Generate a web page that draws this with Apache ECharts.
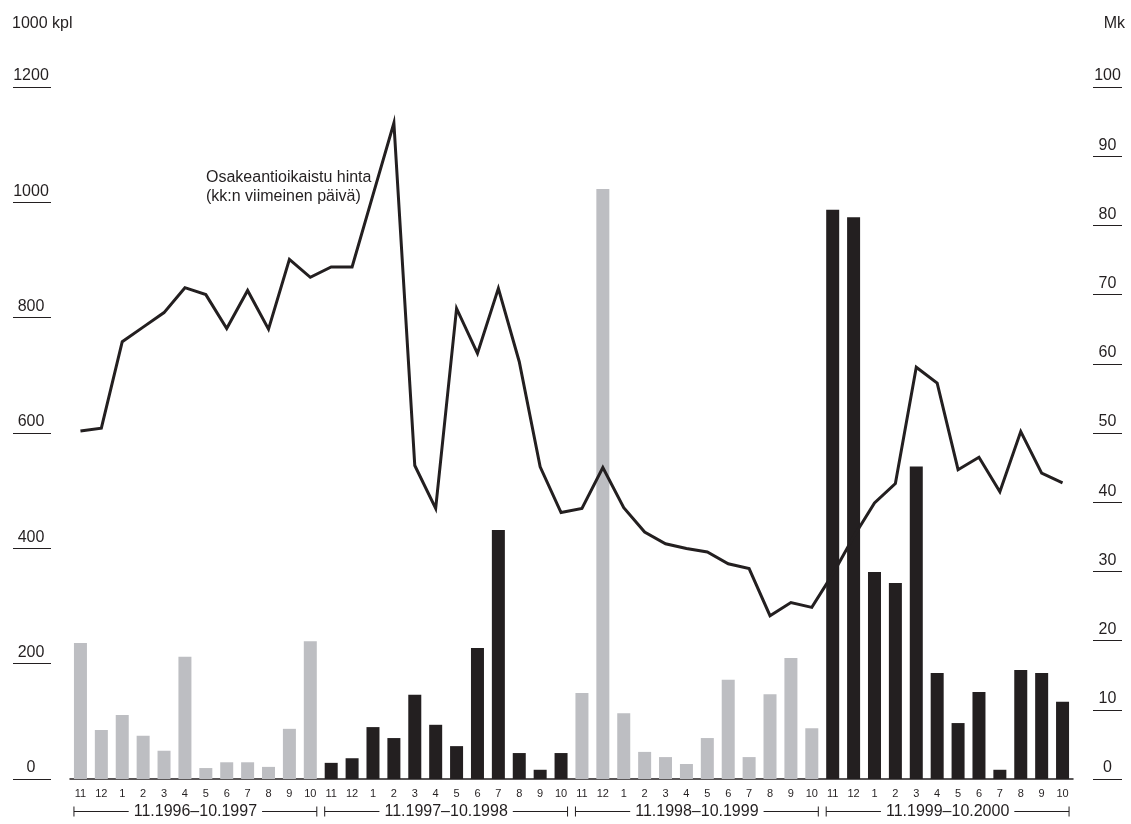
<!DOCTYPE html>
<html>
<head>
<meta charset="utf-8">
<script src="https://cdn.jsdelivr.net/npm/echarts@6/dist/echarts.min.js"></script>
<style>
	html,
	body {
		margin: 0;
		padding: 0;
		background: #fff;
	}
	#chart {
		width: 1131px;
		height: 824px;
	}
</style>
</head>
<body>
<div id="chart"></div>
<script>
// Month labels, 11.1996 - 10.2000
const months = [
	'11', '12', '1', '2', '3', '4', '5', '6', '7', '8', '9', '10',
	'11', '12', '1', '2', '3', '4', '5', '6', '7', '8', '9', '10',
	'11', '12', '1', '2', '3', '4', '5', '6', '7', '8', '9', '10',
	'11', '12', '1', '2', '3', '4', '5', '6', '7', '8', '9', '10',
];
const periods = ['11.1996–10.1997', '11.1997–10.1998', '11.1998–10.1999', '11.1999–10.2000'];

// Trading volume, 1000 kpl (left axis)
const volume = [
	236, 85, 111, 75, 49, 212, 19, 29, 29, 21, 87, 239,
	28, 36, 90, 71, 146, 94, 57, 227, 432, 45, 16, 45,
	149, 1023, 114, 47, 38, 26, 71, 172, 38, 147, 210, 88,
	987, 974, 359, 340, 542, 184, 97, 151, 16, 189, 184, 134,
];
// Share-issue adjusted price, Mk (right axis)
const price = [
	50.3, 50.7, 63.2, 65.3, 67.4, 71.0, 70.0, 65.1, 70.6, 65.0, 75.1, 72.5,
	74.0, 74.0, 84.4, 94.8, 45.3, 39.1, 68.0, 61.5, 70.9, 60.3, 45.1, 38.5,
	39.1, 45.0, 39.2, 35.7, 34.0, 33.3, 32.8, 31.1, 30.4, 23.6, 25.5, 24.8,
	29.6, 35.0, 39.9, 42.7, 59.5, 57.2, 44.7, 46.5, 41.5, 50.2, 44.2, 42.8,
];

const leftTicks = { min: 0, max: 1200, interval: 200 };
const rightTicks = { min: 0, max: 100, interval: 10 };

// unique category keys, label shows only the month
const categories = months.map((m, i) => m + '/' + i);

const ink = '#231f20';
const grey = '#bdbec2';
const font = "'Liberation Sans', Arial, sans-serif";
const barWidth = 13;

const chart = echarts.init(document.getElementById('chart'), null, { renderer: 'canvas' });

const staticTexts = [
	{ type: 'text', left: 12, top: 16, style: { text: '1000 kpl', font: '16px ' + font, fill: ink } },
	{ type: 'text', right: 6, top: 16, style: { text: 'Mk', font: '16px ' + font, fill: ink } },
	{
		type: 'text',
		left: 206,
		top: 168,
		style: { text: 'Osakeantioikaistu hinta\n(kk:n viimeinen päivä)', font: '16px ' + font, fill: ink, lineHeight: 19 },
	},
];

const tickLabel = {
	align: 'center',
	verticalAlign: 'bottom',
	padding: [0, 0, 3, 0],
	fontFamily: font,
	fontSize: 16,
	color: ink,
	formatter: (v) => String(v),
};

chart.setOption({
	animation: false,
	backgroundColor: '#fff',
	grid: { left: 70, right: 58, top: 87, bottom: 45 },
	xAxis: {
		type: 'category',
		data: categories,
		axisLine: { lineStyle: { color: ink, width: 1.5 } },
		axisTick: { show: false },
		axisLabel: {
			interval: 0,
			margin: 9,
			fontFamily: font,
			fontSize: 11,
			color: ink,
			formatter: (v) => v.split('/')[0],
		},
	},
	yAxis: [
		{
			type: 'value',
			position: 'left',
			offset: 19,
			min: leftTicks.min,
			max: leftTicks.max,
			interval: leftTicks.interval,
			axisLine: { show: false },
			axisTick: { show: true, length: 38, lineStyle: { color: ink, width: 1 } },
			splitLine: { show: false },
			axisLabel: Object.assign({ margin: 20 }, tickLabel),
		},
		{
			type: 'value',
			position: 'right',
			offset: 20,
			min: rightTicks.min,
			max: rightTicks.max,
			interval: rightTicks.interval,
			axisLine: { show: false },
			axisTick: { show: true, length: 29, lineStyle: { color: ink, width: 1 } },
			splitLine: { show: false },
			axisLabel: Object.assign({ margin: 14.5 }, tickLabel),
		},
	],
	series: [
		{
			name: 'Vaihto',
			type: 'bar',
			yAxisIndex: 0,
			barWidth: barWidth,
			data: volume,
			itemStyle: {
				color: (p) => (Math.floor(p.dataIndex / 12) % 2 === 0 ? grey : ink),
			},
			z: 2,
		},
		{
			name: 'Osakeantioikaistu hinta',
			type: 'line',
			yAxisIndex: 1,
			data: price,
			symbol: 'none',
			lineStyle: { color: ink, width: 3, join: 'miter' },
			z: 3,
		},
	],
	graphic: staticTexts,
});

// Period brackets under the month labels, placed from the category axis
function drawBrackets() {
	const y = 811.5;
	const els = [];
	periods.forEach((p, g) => {
		const x0 = chart.convertToPixel({ xAxisIndex: 0 }, categories[g * 12]) - barWidth / 2;
		const x1 = chart.convertToPixel({ xAxisIndex: 0 }, categories[g * 12 + 11]) + barWidth / 2;
		els.push({ type: 'line', shape: { x1: x0, y1: y, x2: x1, y2: y }, style: { stroke: ink, lineWidth: 1 } });
		els.push({ type: 'line', shape: { x1: x0, y1: y - 5, x2: x0, y2: y + 5 }, style: { stroke: ink, lineWidth: 1 } });
		els.push({ type: 'line', shape: { x1: x1, y1: y - 5, x2: x1, y2: y + 5 }, style: { stroke: ink, lineWidth: 1 } });
		els.push({
			type: 'text',
			x: (x0 + x1) / 2,
			y: y,
			z: 10,
			style: {
				text: p,
				align: 'center',
				verticalAlign: 'middle',
				font: '16px ' + font,
				fill: ink,
				backgroundColor: '#fff',
				padding: [0, 5],
			},
		});
	});
	chart.setOption({ graphic: staticTexts.concat(els) });
}
drawBrackets();
</script>
</body>
</html>
